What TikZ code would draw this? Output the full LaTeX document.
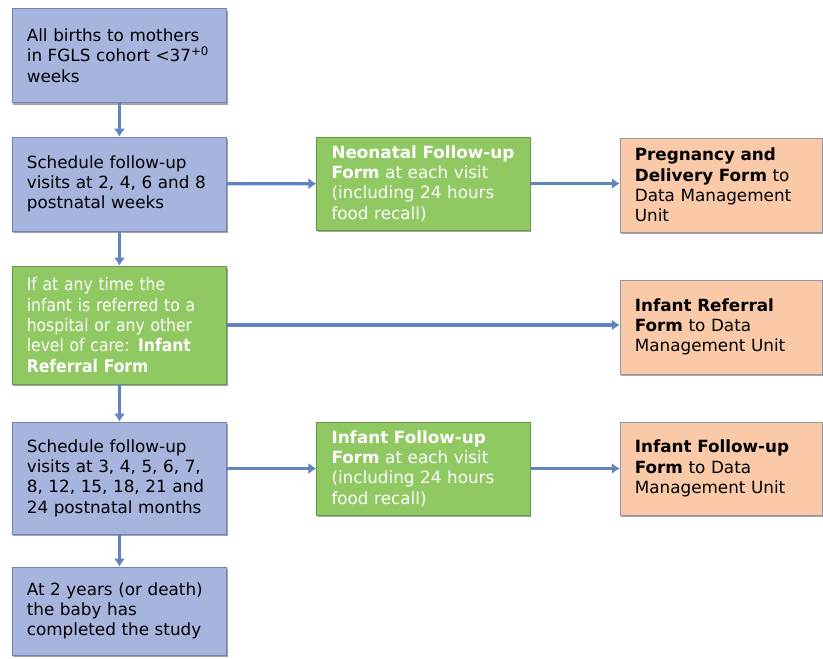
\documentclass[tikz,border=0pt]{standalone}
\usepackage{fontspec}
\setmainfont{DejaVu Sans}
\newfontfamily\narrowfont{DejaVu Sans Condensed}
\usepackage{tikz}
\usetikzlibrary{positioning}
\usetikzlibrary{arrows.meta,shadows}

\definecolor{boxblue}{RGB}{166,180,222}
\definecolor{edgeblue}{RGB}{112,132,184}
\definecolor{boxgreen}{RGB}{144,200,98}
\definecolor{edgegreen}{RGB}{104,150,74}
\definecolor{boxpeach}{RGB}{250,201,168}
\definecolor{edgepeach}{RGB}{150,150,170}
\definecolor{flowblue}{RGB}{96,132,192}

\tikzset{
  box/.style={draw, line width=0.6pt, align=left, inner xsep=11pt,
    font=\fontsize{12.6}{15.2}\selectfont,
    drop shadow={shadow xshift=0.6pt, shadow yshift=-1.8pt, fill=black!70, opacity=0.5}},
  bluebox/.style={box, fill=boxblue, draw=edgeblue, text=black,
    minimum width=161pt, text width=139pt},
  greenbox/.style={box, fill=boxgreen, draw=edgegreen, text=white,
    minimum width=160pt, text width=138pt},
  peachbox/.style={box, fill=boxpeach, draw=edgepeach, text=black,
    minimum width=152pt, text width=130pt},
  flow/.style={draw=flowblue, line width=2.4pt, -{Latex[length=6pt,width=8.5pt]}}
}

\begin{document}
\begin{tikzpicture}[x=0.75pt,y=-0.75pt]
\useasboundingbox (0,0) rectangle (823,658);

% left column
\node[bluebox, minimum height=71pt] (births) at (119.5,55.5)
  {All births to mothers\\in FGLS cohort <37\textsuperscript{+0}\\weeks};
\node[bluebox, minimum height=70.5pt] (weeks) at (119.5,184)
  {Schedule follow-up\\visits at 2, 4, 6 and 8\\postnatal weeks};
\node[greenbox, minimum width=161pt, text width=139pt, minimum height=88.5pt,
  font=\narrowfont\fontsize{13}{15.2}\selectfont] (referral) at (119.5,325)
  {If at any time the\\infant is referred to a\\hospital or any other\\level of care: \textbf{Infant}\\\textbf{Referral Form}};
\node[bluebox, minimum height=84pt] (months) at (119.5,478)
  {Schedule follow-up\\visits at 3, 4, 5, 6, 7,\\8, 12, 15, 18, 21 and\\24 postnatal months};
\node[bluebox, minimum height=66pt] (done) at (119.5,611)
  {At 2 years (or death)\\the baby has\\completed the study};

% middle column
\node[greenbox, minimum height=69.75pt] (neonatal) at (423.5,183.5)
  {\textbf{Neonatal Follow-up}\\\textbf{Form} at each visit\\(including 24 hours\\food recall)};
\node[greenbox, minimum height=69.75pt] (infantfu) at (423.5,468.5)
  {\textbf{Infant Follow-up}\\\textbf{Form} at each visit\\(including 24 hours\\food recall)};

% right column
\node[peachbox, minimum height=70.5pt] (pregnancy) at (721.5,185)
  {\textbf{Pregnancy and}\\\textbf{Delivery Form} to\\Data Management\\Unit};
\node[peachbox, minimum height=70.5pt] (refform) at (721.5,327)
  {\textbf{Infant Referral}\\\textbf{Form} to Data\\Management Unit};
\node[peachbox, minimum height=69.75pt] (infantdmu) at (721.5,468.5)
  {\textbf{Infant Follow-up}\\\textbf{Form} to Data\\Management Unit};

% connectors
\draw[flow] (births) -- (weeks);
\draw[flow] (weeks) -- (referral);
\draw[flow] (referral) -- (months);
\draw[flow] (months) -- (done);
\draw[flow] (weeks) -- (neonatal);
\draw[flow] (neonatal) -- (pregnancy.west |- neonatal);
\draw[flow] (referral) -- (refform.west |- referral);
\draw[flow] (months.east |- infantfu) -- (infantfu);
\draw[flow] (infantfu) -- (infantdmu);
\end{tikzpicture}
\end{document}
